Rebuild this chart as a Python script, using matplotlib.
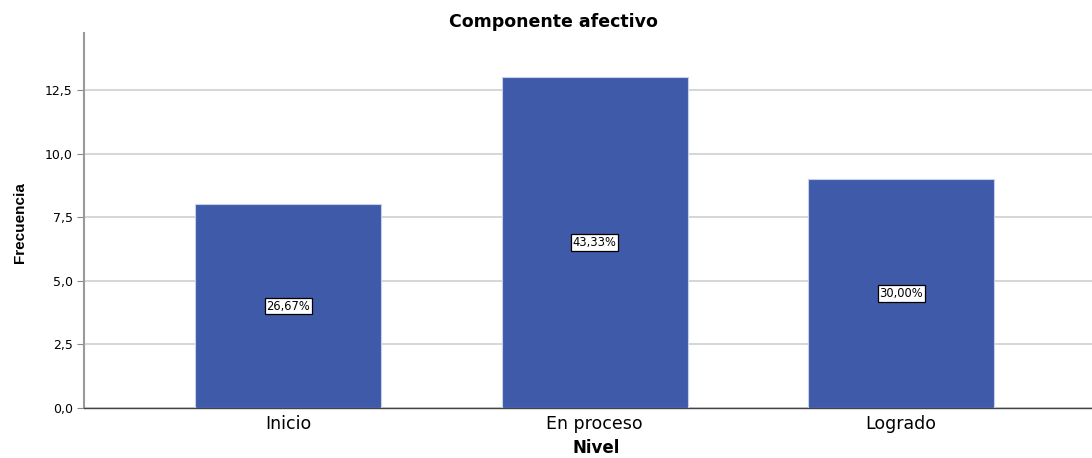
import matplotlib
matplotlib.use("Agg")
import matplotlib.pyplot as plt
from matplotlib.ticker import FuncFormatter

categories = ["Inicio", "En proceso", "Logrado"]
frequencies = [8, 13, 9]
percent_labels = ["26,67%", "43,33%", "30,00%"]
y_ticks = [0, 2.5, 5, 7.5, 10, 12.5]

plt.rcParams['font.family'] = ['DejaVu Sans']

fig = plt.figure(figsize=(10.92, 4.58), dpi=100)
ax = fig.add_axes([84/1092, 50/458, 1 - 84/1092, 375/458])

x = list(range(len(categories)))
ax.bar(x, frequencies, width=0.607, color="#3F5AA8", edgecolor="#C8D0E8", linewidth=0.8, zorder=3)

for xi, v, lab in zip(x, frequencies, percent_labels):
    ax.text(xi, v / 2, lab, ha="center", va="center", fontsize=8.3, zorder=5,
            bbox=dict(boxstyle="square,pad=0.15", facecolor="white", edgecolor="black", linewidth=0.9))

ax.set_xlim(-0.666, 2.623)
ax.set_ylim(0, 14.74)
ax.set_yticks(y_ticks)
ax.yaxis.set_major_formatter(FuncFormatter(lambda v, p: f"{v:.1f}".replace(".", ",")))
ax.set_xticks(x)
ax.set_xticklabels(categories, fontsize=12.5)
ax.tick_params(axis="y", labelsize=9, length=5, color="#888888", pad=3)
ax.tick_params(axis="x", length=0, pad=5)

ax.grid(axis="y", color="#D0D0D0", linewidth=1.2, zorder=0)
ax.set_axisbelow(True)
for s in ["top", "right"]:
    ax.spines[s].set_visible(False)
ax.spines["left"].set_color("#999999")
ax.spines["left"].set_linewidth(1.5)
ax.spines["bottom"].set_color("#444444")
ax.spines["bottom"].set_linewidth(1.0)

fig.text(553/1092, 1 - 22/458, "Componente afectivo", ha="center", va="center",
         fontsize=12.5, fontweight="bold")
fig.text(20/1092, 1 - 223/458, "Frecuencia", ha="center", va="center",
         rotation=90, fontsize=11, fontweight="bold", family="Liberation Sans")
fig.text(596/1092, 1 - 448/458, "Nivel", ha="center", va="center",
         fontsize=12, fontweight="bold")

fig.savefig("out.png", dpi=100)
